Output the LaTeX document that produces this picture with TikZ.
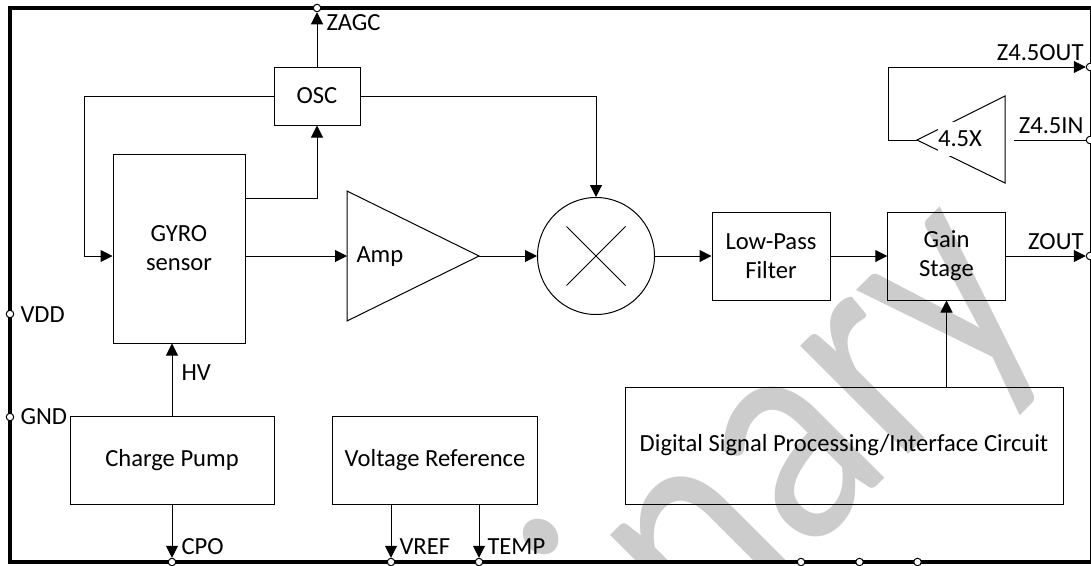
\documentclass[tikz,border=0pt]{standalone}
\usepackage{fontspec}
\setmainfont{Carlito}
\usetikzlibrary{
    arrows.meta,
    calc,
    positioning
}
\tikzset{
    block/.style={rectangle, draw, inner sep=0pt, align=center, font=\fontsize{24.6}{29}\selectfont},
    pin/.style={circle, draw, fill=white, inner sep=0pt, minimum size=7.5pt, line width=1pt},
    lbl/.style={inner sep=0pt, font=\fontsize{24.6}{29}\selectfont},
    sig/.style={line width=1pt, -{Triangle[length=12pt,width=12pt]}},
    wire/.style={line width=1pt}
}

\begin{document}
\begin{tikzpicture}[x=1pt, y=-1pt, line width=1pt]
    \useasboundingbox (0,0) rectangle (1091,565);
    \fill[white] (0,0) rectangle (1091,565);

    % watermark
    \begin{scope}
        \clip (0,0) rectangle (1091,560);
        \node[rotate=45, xscale=.84, text=black!20, inner sep=0pt, font=\fontsize{320}{320}\selectfont] (mark) at (796,447) {inary};
    \end{scope}

    % outer frame
    \draw[line width=4pt] (1091,8) -- (10,8) -- (10,562) -- (1091,562);
    \draw[line width=1pt] (1090,8) -- (1090,562);

    % blocks
    \node[block, minimum width=86pt, minimum height=58pt] (osc) at (317,96) {OSC};
    \node[block, minimum width=132pt, minimum height=189pt] (gyro) at (179,248.5) {GYRO\\sensor};
    \node[block, minimum width=204pt, minimum height=88pt] (pump) at (172,460.5) {Charge Pump};
    \node[block, minimum width=204.5pt, minimum height=88pt] (vref) at (435,460.5) {Voltage Reference};
    \node[block, minimum width=438pt, minimum height=117pt] (dsp) at (844,445.5) {Digital Signal Processing/Interface Circuit};
    \node[block, minimum width=118pt, minimum height=88pt] (lpf) at (771,256) {Low-Pass\\Filter};
    \node[block, minimum width=117.5pt, minimum height=88pt] (gain) at (946.5,256) {Gain\\Stage};
    \node[circle, draw, minimum size=117pt, inner sep=0pt] (mix) at (596,256) {};
    \draw ($(mix)+(-29.5,-29.5)$) -- ($(mix)+(29.5,29.5)$)
          ($(mix)+(29.5,-29.5)$) -- ($(mix)+(-29.5,29.5)$);

    % triangles
    \coordinate (ampin) at (347,256);
    \coordinate (ampout) at (479,256);
    \draw (347,191) -- (ampout) -- (347,321) -- cycle;
    \node[lbl, anchor=west] (amp) at (356,257) {Amp};
    \coordinate (buftip) at (917,140);
    \coordinate (bufin) at (1014,140);
    \draw (1005,96) -- (buftip) -- (1005,183) -- cycle;
    \node[lbl, fill=white, minimum height=34pt] (buf) at (960,139) {4.5X};

    % pins
    \node[pin] (zagc) at (317,8) {};
    \node[pin] (vdd) at (10,314) {};
    \node[pin] (gnd) at (10,417) {};
    \node[pin] (cpo) at (172,562) {};
    \node[pin] (vr) at (391,562) {};
    \node[pin] (temp) at (479,562) {};
    \node[pin] (n1) at (801,562) {};
    \node[pin] (n2) at (859.5,562) {};
    \node[pin] (n3) at (917.5,562) {};
    \node[pin] (z45o) at (1090,67) {};
    \node[pin] (z45i) at (1090,140) {};
    \node[pin] (zout) at (1090,256) {};

    % connectors
    \draw[sig] (osc.north) -- (zagc);
    \draw[sig] (osc.west) -- (84,96) |- (gyro.west |- 0,256);
    \draw[sig] (gyro.east |- 0,198) -| (osc.south);
    \draw[sig] (osc.east) -| (mix.north);
    \draw[sig] (gyro.east |- ampin) -- (ampin);
    \draw[sig] (ampout) -- (mix.west);
    \draw[sig] (mix.east) -- (lpf.west);
    \draw[sig] (lpf.east) -- (gain.west);
    \draw[sig] (gain.east) -- (zout);
    \draw[sig] (dsp.north -| gain.south) -- (gain.south);
    \draw[sig] (pump.north) -- (gyro.south -| pump.north);
    \draw[sig] (pump.south) -- (cpo);
    \draw[sig] (vref.south -| vr) -- (vr);
    \draw[sig] (vref.south -| temp) -- (temp);
    \draw[sig] (buftip) -- (888,140) -- (888,67) -- (z45o);
    \draw[wire] (bufin) -- (z45i);

    % pin labels
    \node[lbl, anchor=west] (zagclbl) at (326,23) {ZAGC};
    \node[lbl, anchor=west] (vddlbl) at (20,315) {VDD};
    \node[lbl, anchor=west] (gndlbl) at (20,417) {GND};
    \node[lbl, anchor=west] (hvlbl) at (181,373) {HV};
    \node[lbl, anchor=west] (cpolbl) at (181,547) {CPO};
    \node[lbl, anchor=west] (vreflbl) at (399,547) {VREF};
    \node[lbl, anchor=west] (templbl) at (487,547) {TEMP};
    \node[lbl, anchor=east] (z45olbl) at (1084,53) {Z4.5OUT};
    \node[lbl, anchor=east] (z45ilbl) at (1084,126) {Z4.5IN};
    \node[lbl, anchor=east] (zoutlbl) at (1084,242) {ZOUT};
\end{tikzpicture}
\end{document}
